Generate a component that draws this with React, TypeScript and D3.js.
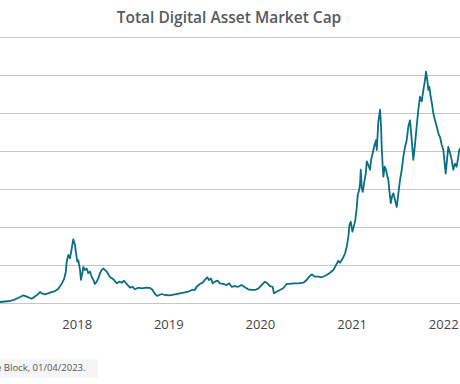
import React from "react";
import * as d3 from "d3";

// Date as decimal year, total market cap in $ billions
const years: number[] = [
  2017.157, 2017.267, 2017.321, 2017.376, 2017.412, 2017.449, 2017.503, 2017.558, 2017.594, 2017.613,
  2017.649, 2017.703, 2017.758, 2017.794, 2017.831, 2017.856, 2017.875, 2017.885, 2017.903, 2017.921,
  2017.94, 2017.957, 2017.976, 2017.987, 2018.001, 2018.012, 2018.031, 2018.041, 2018.056, 2018.067,
  2018.085, 2018.104, 2018.121, 2018.14, 2018.158, 2018.176, 2018.194, 2018.213, 2018.23, 2018.249,
  2018.267, 2018.285, 2018.322, 2018.358, 2018.394, 2018.431, 2018.46, 2018.486, 2018.511, 2018.54,
  2018.576, 2018.606, 2018.631, 2018.667, 2018.704, 2018.759, 2018.795, 2018.824, 2018.849, 2018.874,
  2018.896, 2018.922, 2018.958, 2019.013, 2019.067, 2019.122, 2019.177, 2019.213, 2019.25, 2019.286,
  2019.304, 2019.34, 2019.37, 2019.395, 2019.42, 2019.439, 2019.46, 2019.479, 2019.504, 2019.533,
  2019.559, 2019.595, 2019.632, 2019.66, 2019.686, 2019.722, 2019.758, 2019.795, 2019.831, 2019.867,
  2019.905, 2019.941, 2019.977, 2020.014, 2020.05, 2020.075, 2020.104, 2020.134, 2020.148, 2020.177,
  2020.213, 2020.249, 2020.287, 2020.323, 2020.359, 2020.413, 2020.468, 2020.505, 2020.533, 2020.559,
  2020.595, 2020.632, 2020.669, 2020.723, 2020.759, 2020.795, 2020.825, 2020.85, 2020.868, 2020.898,
  2020.923, 2020.941, 2020.959, 2020.97, 2020.985, 2021.003, 2021.021, 2021.035, 2021.051, 2021.061,
  2021.076, 2021.087, 2021.094, 2021.105, 2021.116, 2021.13, 2021.149, 2021.16, 2021.177, 2021.196,
  2021.207, 2021.225, 2021.239, 2021.261, 2021.269, 2021.286, 2021.305, 2021.316, 2021.323, 2021.334,
  2021.341, 2021.356, 2021.37, 2021.385, 2021.395, 2021.406, 2021.422, 2021.436, 2021.45, 2021.469,
  2021.487, 2021.505, 2021.523, 2021.542, 2021.559, 2021.578, 2021.596, 2021.614, 2021.632, 2021.651,
  2021.668, 2021.687, 2021.705, 2021.723, 2021.741, 2021.76, 2021.778, 2021.796, 2021.807, 2021.821,
  2021.832, 2021.843, 2021.858, 2021.872, 2021.887, 2021.905, 2021.924, 2021.941, 2021.96, 2021.978,
  2021.996, 2022.007, 2022.022, 2022.036, 2022.05, 2022.069, 2022.087, 2022.105, 2022.123, 2022.142,
  2022.159, 2022.17, 2022.189,
];

const marketCap: number[] = [
  20, 33, 55, 85, 108, 90, 63, 108, 151, 134,
  121, 142, 164, 195, 260, 320, 410, 550, 640, 595,
  726, 845, 770, 660, 550, 570, 440, 310, 400, 480,
  440, 460, 400, 420, 350, 310, 257, 287, 330, 400,
  440, 460, 420, 350, 320, 266, 287, 274, 300, 257,
  208, 220, 187, 208, 200, 208, 205, 178, 125, 100,
  112, 125, 112, 108, 121, 134, 147, 155, 178, 178,
  220, 257, 274, 310, 345, 310, 330, 266, 287, 300,
  266, 257, 243, 266, 220, 230, 220, 243, 213, 187,
  178, 178, 195, 243, 287, 266, 230, 220, 134, 155,
  178, 200, 257, 257, 266, 266, 274, 310, 353, 384,
  353, 353, 345, 375, 405, 440, 507, 563, 537, 595,
  660, 747, 879, 1030, 1076, 945, 1030, 1100, 1270, 1430,
  1490, 1580, 1760, 1520, 1470, 1580, 1710, 1870, 1820, 1760,
  1890, 1980, 2060, 2150, 2020, 2390, 2550, 2330, 2060, 1800,
  1670, 1800, 1760, 1670, 1630, 1490, 1320, 1410, 1450, 1360,
  1270, 1450, 1625, 1760, 1930, 2060, 2150, 2330, 2410, 2150,
  1890, 2100, 2330, 2550, 2720, 2660, 2810, 2940, 3050, 2940,
  2810, 2850, 2720, 2630, 2500, 2410, 2330, 2240, 2190, 2090,
  2020, 1890, 1710, 1890, 2060, 1980, 1890, 1760, 1840, 1800,
  1930, 2020, 2050,
];

const yTicks: number[] = [0, 500, 1000, 1500, 2000, 2500, 3000, 3500];
const xTickYears: number[] = [2018, 2019, 2020, 2021, 2022];

const title = "Total Digital Asset Market Cap";
const source = "Source: The Block, 01/04/2023.";

function decToDate(y: number): Date {
  const yr = Math.floor(y);
  const start = Date.UTC(yr, 0, 1);
  const end = Date.UTC(yr + 1, 0, 1);
  return new Date(start + (y - yr) * (end - start));
}

export default function App() {
  const W = 460;
  const H = 384;
  const x = d3
    .scaleUtc()
    .domain([new Date(Date.UTC(2018, 0, 1)), new Date(Date.UTC(2022, 0, 1))])
    .range([77.2, 443.7]);
  const y = d3.scaleLinear().domain([0, 3500]).range([303.5, 37.5]);

  const pts = years.map((yr, i) => ({ d: decToDate(yr), v: marketCap[i] }));
  const line = d3
    .line<{ d: Date; v: number }>()
    .x((p) => x(p.d))
    .y((p) => y(p.v))
    .curve(d3.curveLinear);

  return (
    <svg
      width={W}
      height={H}
      style={{ position: "fixed", left: 0, top: 0, background: "#fff" }}
      xmlns="http://www.w3.org/2000/svg"
    >
      <rect x={0} y={0} width={W} height={H} fill="#ffffff" />
      <text
        x={229}
        y={22.5}
        textAnchor="middle"
        fontFamily="'Open Sans', sans-serif"
        fontWeight={600}
        fontSize={15.5}
        fill="#555a5e"
      >
        {title}
      </text>
      {yTicks.map((t) => (
        <line
          key={t}
          x1={0}
          x2={W}
          y1={Math.round(y(t) - 0.5) + 0.5}
          y2={Math.round(y(t) - 0.5) + 0.5}
          stroke="#c6c6c6"
          strokeWidth={1}
        />
      ))}
      <path
        d={line(pts) || ""}
        fill="none"
        stroke="#0b6f84"
        strokeWidth={1.8}
        strokeLinejoin="round"
      />
      {xTickYears.map((yr) => (
        <text
          key={yr}
          x={x(new Date(Date.UTC(yr, 0, 1)))}
          y={329}
          textAnchor="middle"
          fontFamily="'Open Sans', sans-serif"
          fontSize={13}
          fill="#444"
        >
          {yr}
        </text>
      ))}
      <rect x={0} y={359.5} width={98} height={18} fill="#f4f5f5" />
      <text
        x={85.5}
        y={370.5}
        textAnchor="end"
        fontFamily="'Open Sans', sans-serif"
        fontSize={9.5}
        fill="#555"
      >
        {source}
      </text>
    </svg>
  );
}
